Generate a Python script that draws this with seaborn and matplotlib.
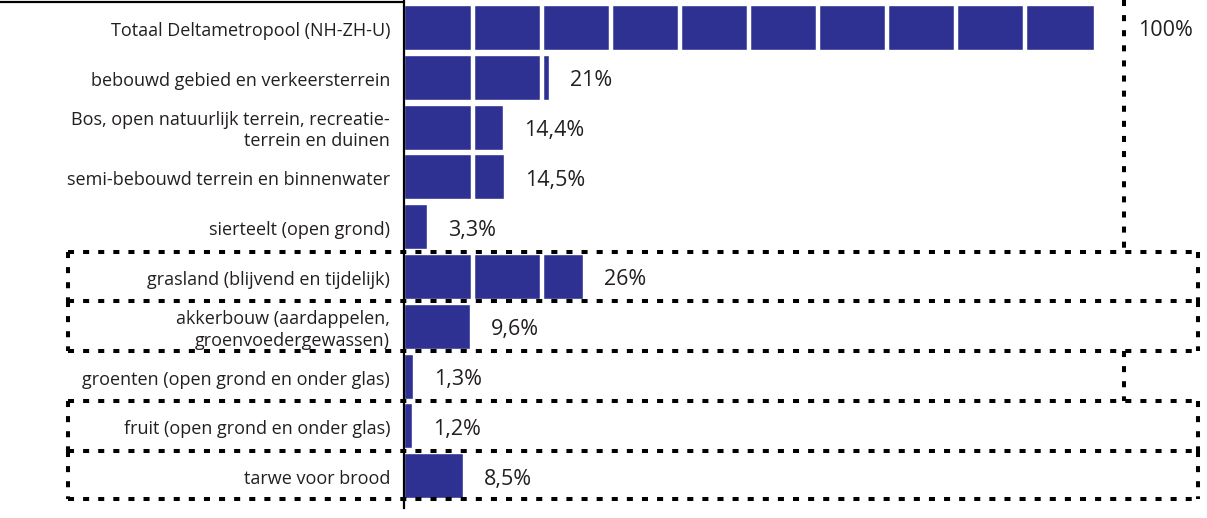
import matplotlib
matplotlib.use("Agg")
import matplotlib.pyplot as plt
import seaborn as sns
import pandas as pd
from matplotlib.lines import Line2D

# Land use shares within the Deltametropool (NH-ZH-U)
categories = [
    "Totaal Deltametropool (NH-ZH-U)",
    "bebouwd gebied en verkeersterrein",
    "Bos, open natuurlijk terrein, recreatie-\nterrein en duinen",
    "semi-bebouwd terrein en binnenwater",
    "sierteelt (open grond)",
    "grasland (blijvend en tijdelijk)",
    "akkerbouw (aardappelen,\ngroenvoedergewassen)",
    "groenten (open grond en onder glas)",
    "fruit (open grond en onder glas)",
    "tarwe voor brood",
]
shares = [100, 21, 14.4, 14.5, 3.3, 26, 9.6, 1.3, 1.2, 8.5]

BAR = "#2e3192"
INK = "#231f20"

sns.set_theme(style="white")
plt.rcParams["font.family"] = ["Open Sans", "DejaVu Sans"]

W, H = 1207, 518
PX = 6.9            # pixels per percent
PITCH = 49.8        # pixels per row
ROW0 = 27.5         # pixel y of first row centre
LEFT_PX, BOTTOM_PX = 404, 508

fig = plt.figure(figsize=(W / 100, H / 100), dpi=100)
ax = fig.add_axes([LEFT_PX / W, 1 - BOTTOM_PX / H, (W - LEFT_PX) / W, BOTTOM_PX / H])

df = pd.DataFrame({"categorie": categories, "aandeel": shares})
sns.barplot(data=df, x="aandeel", y="categorie", orient="h", color=BAR,
            saturation=1, width=0.9, ax=ax)

ax.set_xlim(0, (W - LEFT_PX) / PX)
ax.set_ylim((BOTTOM_PX - ROW0) / PITCH, -ROW0 / PITCH)

# white separators every 10 percent
for i, v in enumerate(shares):
    for k in range(10, 100, 10):
        if k < v:
            ax.vlines(k, i - 0.45, i + 0.45, color="white", lw=3.2, zorder=3)

# spines and ticks
for s in ["top", "right", "bottom"]:
    ax.spines[s].set_visible(False)
ax.spines["left"].set_color("black")
ax.spines["left"].set_linewidth(1.6)
ax.set_xticks([])
ax.set_yticks([])
ax.set_xlabel("")
ax.set_ylabel("")

# category labels
for i, c in enumerate(categories):
    ax.annotate(c, (0, i), xytext=(-10, -2.5), textcoords="offset points",
                ha="right", va="center", fontsize=13, color=INK,
                linespacing=1.25, annotation_clip=False)

# value labels
FRAME_X = (1124 - LEFT_PX) / PX
for i, v in enumerate(shares):
    txt = f"{v:g}".replace(".", ",") + "%"
    if v >= 100:
        ax.annotate(txt, (FRAME_X, i), xytext=(10, -2), textcoords="offset points",
                    ha="left", va="center", fontsize=15.5, color=INK,
                    annotation_clip=False)
    else:
        ax.annotate(txt, (v, i), xytext=(15, -2.5), textcoords="offset points",
                    ha="left", va="center", fontsize=15.5, color=INK)

# dotted frames
dot = dict(color="black", lw=2.9, linestyle=(0, (1.5, 2.25)), clip_on=False, zorder=4)
XL = (68 - LEFT_PX) / PX
XR = (1198 - LEFT_PX) / PX
YTOP = -ROW0 / PITCH
YEND = 9.47

ax.plot([FRAME_X, FRAME_X], [YTOP, 4.5], **dot)
for y in [4.5, 5.5, 6.5, 7.5, 8.5, YEND]:
    ax.plot([XL, XR], [y, y], **dot)
for y0, y1 in [(4.5, 5.5), (5.5, 6.5), (7.5, 8.5), (8.5, YEND)]:
    ax.plot([XL, XL], [y0, y1], **dot)
    ax.plot([XR, XR], [y0, y1], **dot)
ax.plot([FRAME_X, FRAME_X], [6.5, 7.5], **dot)

# solid top rule over the label column
fig.add_artist(Line2D([0, LEFT_PX / W], [1 - 2 / H, 1 - 2 / H], color="black", lw=1.6))

fig.savefig("out.png", dpi=100)
